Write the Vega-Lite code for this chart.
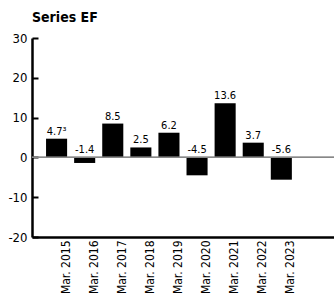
{
  "$schema": "https://vega.github.io/schema/vega-lite/v6.json",
  "width": 302,
  "height": 199,
  "autosize": {"type": "none"},
  "padding": {"left": 32, "top": 38, "right": 0, "bottom": 57},
  "background": "white",
  "title": {"text": "Series EF", "anchor": "start", "frame": "group", "font": "Liberation Sans Narrow, DejaVu Sans Condensed, Liberation Sans, sans-serif", "fontSize": 14, "fontWeight": "bold", "color": "black", "offset": 7},
  "config": {"view": {"stroke": null}, "font": "Liberation Sans Narrow, DejaVu Sans Condensed, Liberation Sans, sans-serif"},
  "resolve": {"axis": {"y": "independent"}},
  "data": {"values": [
    {"period": "Mar. 2015", "value": 4.7, "label": "4.7³"},
    {"period": "Mar. 2016", "value": -1.4, "label": "-1.4"},
    {"period": "Mar. 2017", "value": 8.5, "label": "8.5"},
    {"period": "Mar. 2018", "value": 2.5, "label": "2.5"},
    {"period": "Mar. 2019", "value": 6.2, "label": "6.2"},
    {"period": "Mar. 2020", "value": -4.5, "label": "-4.5"},
    {"period": "Mar. 2021", "value": 13.6, "label": "13.6"},
    {"period": "Mar. 2022", "value": 3.7, "label": "3.7"},
    {"period": "Mar. 2023", "value": -5.6, "label": "-5.6"}
  ]},
  "encoding": {
    "x": {"field": "period", "type": "nominal", "title": null,
      "scale": {"domain": ["Mar. 2015","Mar. 2016","Mar. 2017","Mar. 2018","Mar. 2019","Mar. 2020","Mar. 2021","Mar. 2022","Mar. 2023"," "], "paddingInner": 0.25, "paddingOuter": 0.5},
      "axis": {"labelAngle": -90, "ticks": false, "labelPadding": 3, "labelOffset": 9, "labelFontSize": 12, "labelColor": "black", "domainColor": "black", "domainWidth": 2.5}}
  },
  "layer": [
    {"mark": {"type": "bar", "color": "black"},
      "encoding": {"y": {"field": "value", "type": "quantitative", "title": null,
        "scale": {"domain": [-20, 30], "nice": false},
        "axis": {"orient": "left", "offset": -6, "values": [-20,-10,0,10,20,30], "labelExpr": "'' + datum.value", "labelOverlap": false, "grid": false, "domain": false, "tickSize": 6, "tickWidth": 2, "tickColor": "black", "labelFontSize": 13, "labelColor": "black", "labelPadding": 5}}}},
    {"mark": {"type": "rule", "color": "#888", "strokeWidth": 1},
      "encoding": {"y": {"datum": 0, "scale": {"domain": [-20, 30], "nice": false},
        "axis": {"orient": "left", "labels": false, "ticks": false, "grid": false, "title": null, "domainColor": "black", "domainWidth": 2.5}},
        "x": {"value": 0}, "x2": {"value": 302}}},
    {"mark": {"type": "text", "baseline": "bottom", "dy": -2, "fontSize": 11, "color": "black"},
      "transform": [{"filter": "datum.value >= 0"}],
      "encoding": {"y": {"field": "value", "type": "quantitative", "axis": null},
        "text": {"field": "label"}}},
    {"mark": {"type": "text", "baseline": "bottom", "dy": -2, "fontSize": 11, "color": "black"},
      "transform": [{"filter": "datum.value < 0"}],
      "encoding": {"y": {"datum": 0, "axis": null},
        "text": {"field": "label"},
        "fontWeight": {"condition": {"test": "datum.period === 'Mar. 2023'", "value": "bold"}, "value": "normal"}}}
  ]
}
